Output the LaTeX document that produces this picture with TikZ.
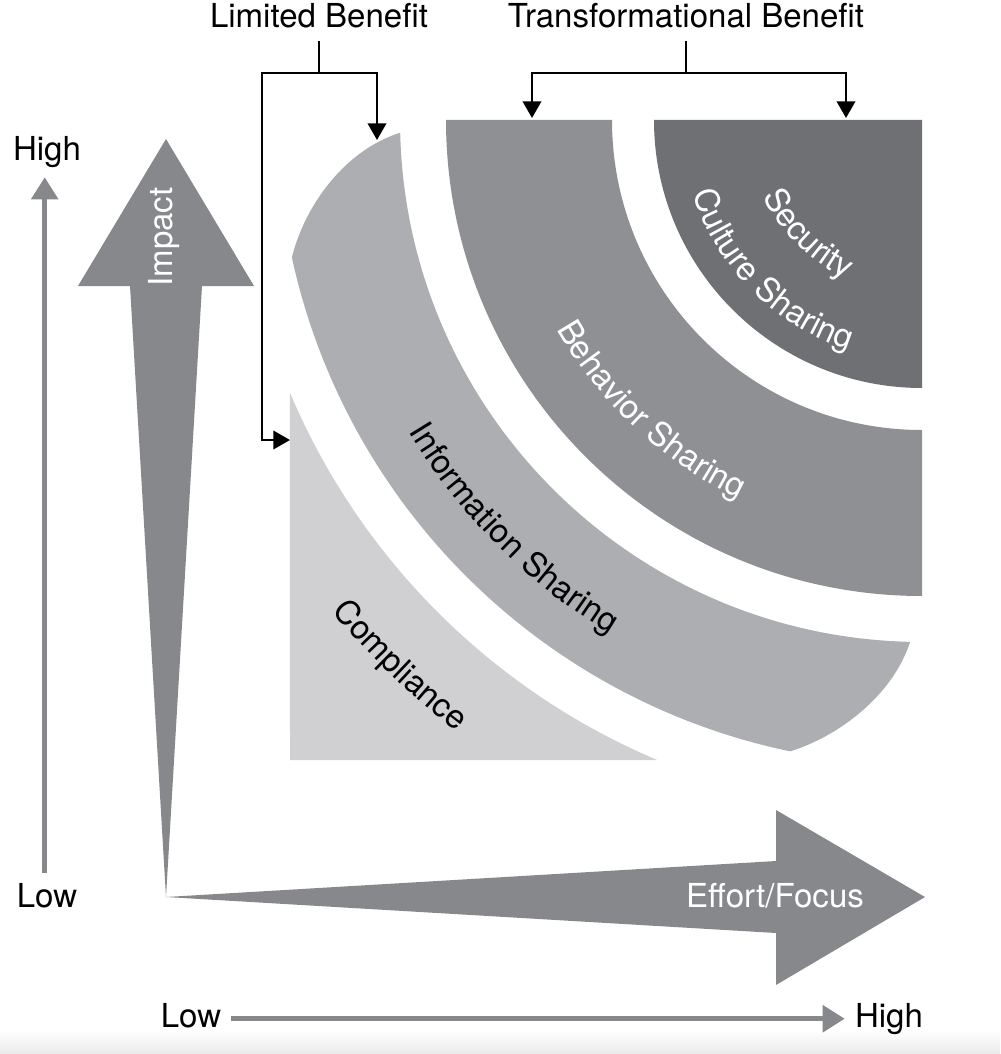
\documentclass[tikz,border=0pt]{standalone}
\usepackage{fontspec}
\setmainfont{TeX Gyre Heros}
\usetikzlibrary{arrows.meta,calc,decorations.text}
\definecolor{secC}{HTML}{6F7074}
\definecolor{behC}{HTML}{8F9094}
\definecolor{infC}{HTML}{ADAEB1}
\definecolor{cmpC}{HTML}{D0D0D2}
\definecolor{arrC}{HTML}{87888C}
\newcommand\lblfont{\fontsize{18.8}{22}\selectfont}
\begin{document}
\begin{tikzpicture}[x=0.02cm,y=-0.02cm,
  lbl/.style={font=\lblfont, inner sep=0pt, anchor=base},
  bracketline/.style={line width=1.4pt, black},
  bracket/.style={bracketline, -{Triangle[length=9.5pt,width=10.5pt]}},
  axisline/.style={draw=arrC, line width=2.6pt, -{Triangle[length=12.5pt,width=15pt]}},
  bigarrow/.style={fill=arrC},
  curvetext/.style args={#1/#2}{decorate, decoration={text along path, text={|\lblfont|#1}, text align=center, text color=#2}}
]
\useasboundingbox (0,0) rectangle (1000,1054);
\shade[top color=white,bottom color=black!8] (0,1030) rectangle (1000,1054);

\coordinate (C) at (922,120);

% Security
\fill[secC] (C) -- ($(C)+(90:268)$) arc[start angle=90,end angle=180,radius=268] -- cycle;
% Behavior
\fill[behC] ($(C)+(180:476)$) -- ($(C)+(180:310)$) arc[start angle=180,end angle=90,radius=310]
  -- ($(C)+(90:476)$) arc[start angle=90,end angle=180,radius=476] -- cycle;
% Information
\coordinate (i1) at ($(C)+(178.6:522)$);
\coordinate (o2) at ($(C)+(101.8:645)$);
\fill[infC] (i1) arc[start angle=178.6,end angle=91.3,radius=522]
  .. controls (892,697) and (837,737) .. (o2)
  arc[start angle=101.8,end angle=167.7,radius=645]
  .. controls (305,205) and (345,150) .. (i1) -- cycle;
% Compliance
\coordinate (Cc) at (926,124);
\fill[cmpC] (290,760) -- ($(Cc)+(157.1:690.5)$) arc[start angle=157.1,end angle=112.9,radius=690.5] -- cycle;

% big arrows
\coordinate (O) at (166,897);
\fill[bigarrow] (O) -- (130,286) -- (78,286) -- (166,139) -- (254,286) -- (202,286) -- cycle;
\fill[bigarrow] (O) -- (776,861) -- (776,810) -- (925,897) -- (776,985) -- (776,933) -- cycle;

% labels
\node[lbl] (limited) at (319,28) {Limited Benefit};
\node[lbl] (transf) at (686,28) {Transformational Benefit};
\node[lbl] (highL) at (47,161) {High};
\node[lbl] (lowL) at (47,907) {Low};
\node[lbl] (lowB) at (191,1027) {Low};
\node[lbl] (highB) at (889,1027) {High};
\node[lbl, text=white] (effort) at (775,907) {Effort/Focus};
\node[font=\lblfont, text=white, rotate=90, inner sep=0pt] (impact) at (164,237) {Impact};

% axis arrows
\draw[axisline, shorten <=5.7pt, shorten >=5pt] ([xshift=-1.3pt]lowL.north) -- ([xshift=-1.3pt]highL.south);
\draw[axisline, shorten <=5.7pt, shorten >=5.7pt] ([yshift=-2pt]lowB.east) -- ([yshift=-2pt]lowB.east -| highB.west);

% brackets
\coordinate (infoTip) at (377,140);
\coordinate (compTip) at (290,440);
\coordinate (behTip) at (532,118);
\coordinate (secTip) at (846,118);
\draw[bracketline] ($(limited.south)+(0,12)$) -- ($(limited.south)+(0,44)$) coordinate (lj);
\draw[bracket] (lj) -| (infoTip);
\draw[bracket] (lj) -| ($(compTip)+(-28,0)$) -- (compTip);
\draw[bracketline] ($(transf.south)+(0,12)$) -- ($(transf.south)+(0,44)$) coordinate (tj);
\draw[bracket] (tj) -| (behTip);
\draw[bracket] (tj) -| (secTip);

% curved band labels
\path[curvetext=Security/white] ($(C)+(180:176)$) arc[start angle=180,end angle=90,radius=176];
\path[curvetext=Culture Sharing/white] ($(C)+(180:241)$) arc[start angle=180,end angle=90,radius=241];
\path[curvetext=Behavior Sharing/white] ($(C)+(165:421)$) arc[start angle=165,end angle=101,radius=421];
\path[curvetext=Information Sharing/black] ($(C)+(170:601)$) arc[start angle=170,end angle=100,radius=601];
\path[curvetext=Compliance/black] ($(C)+(150:768)$) arc[start angle=150,end angle=117.5,radius=768];
\end{tikzpicture}
\end{document}
